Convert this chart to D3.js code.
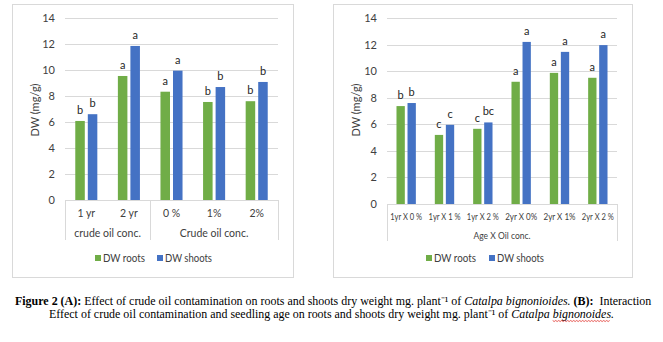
<!DOCTYPE html>
<html><head><meta charset="utf-8">
<script src="https://cdn.jsdelivr.net/npm/d3@7"></script>
<style>
html,body{margin:0;padding:0;background:#fff;}
svg{display:block;}
</style></head>
<body>
<script>
// ---- data ----
const categoriesA = ["1 yr", "2 yr", "0 %", "1%", "2%"];
const groupLabelsA = ["crude oil conc.", "Crude oil conc."];
const groupSizesA = [2, 3];
const rootsA = [6.08, 9.54, 8.33, 7.54, 7.6];
const shootsA = [6.6, 11.85, 9.95, 8.69, 9.08];
const lettersRootsA = ["b", "a", "a", "b", "b"];
const lettersShootsA = ["b", "a", "a", "b", "b"];

const categoriesB = ["1yr X 0 %", "1yr X 1 %", "1yr X 2 %", "2yr X 0%", "2yr X 1%", "2yr X 2 %"];
const axisTitleB = "Age X Oil conc.";
const rootsB = [7.37, 5.2, 5.66, 9.2, 9.87, 9.5];
const shootsB = [7.6, 5.96, 6.14, 12.2, 11.45, 11.96];
const lettersRootsB = ["b", "c", "c", "a", "a", "a"];
const lettersShootsB = ["b", "c", "bc", "a", "a", "a"];

const yTicks = [0, 2, 4, 6, 8, 10, 12, 14];
const seriesNames = ["DW roots", "DW shoots"];
const seriesColors = ["#70ad47", "#4472c4"];
const yTitle = "DW (mg/g)";

// ---- drawing ----
const W = 663, H = 342;
const svg = d3.select("body").append("svg").attr("width", W).attr("height", H);
const FONT = "Lato, 'Liberation Sans', sans-serif";

function panel(cfg) {
  const g = svg.append("g");
  g.append("rect").attr("x", cfg.box[0] + 0.5).attr("y", cfg.box[1] + 0.5)
    .attr("width", cfg.box[2] - cfg.box[0]).attr("height", cfg.box[3] - cfg.box[1])
    .attr("fill", "#fff").attr("stroke", "#d9d9d9").attr("stroke-width", 1);

  const y = d3.scaleLinear().domain([0, 14]).range([cfg.y0, cfg.y14]);
  const x0 = d3.scaleBand().domain(cfg.cats).range([cfg.xl, cfg.xr]).padding(0);
  const x1 = d3.scaleBand().domain([0, 1]).range([0, x0.bandwidth()])
    .paddingInner(cfg.pi).paddingOuter(cfg.po);

  g.append("g").selectAll("line").data(yTicks).join("line")
    .attr("x1", cfg.xl).attr("x2", cfg.xr)
    .attr("y1", d => Math.round(y(d)) + 0.5).attr("y2", d => Math.round(y(d)) + 0.5)
    .attr("stroke", "#d9d9d9").attr("stroke-width", 1);

  const ya = d3.axisLeft(y).tickValues(yTicks).tickSize(0).tickPadding(0);
  const yg = g.append("g").attr("transform", `translate(${cfg.tickX},0)`).call(ya);
  yg.select(".domain").remove();
  yg.selectAll("text").attr("font-family", FONT).attr("font-size", cfg.tickFs)
    .attr("fill", "#404040");

  g.append("text").attr("transform", `translate(${cfg.titleX},${cfg.titleY}) rotate(-90)`)
    .attr("text-anchor", "middle").attr("font-family", FONT).attr("font-size", cfg.tickFs)
    .attr("fill", "#404040").text(yTitle);

  const series = [cfg.roots, cfg.shoots];
  const letters = [cfg.lr, cfg.ls];
  series.forEach((vals, si) => {
    const sg = g.append("g");
    sg.selectAll("rect").data(vals).join("rect")
      .attr("x", (d, i) => x0(cfg.cats[i]) + x1(si))
      .attr("width", x1.bandwidth())
      .attr("y", d => y(d)).attr("height", d => y(0) - y(d))
      .attr("fill", seriesColors[si]);
    sg.selectAll("text").data(vals).join("text")
      .attr("x", (d, i) => x0(cfg.cats[i]) + x1(si) + x1.bandwidth() / 2)
      .attr("y", d => y(d) - cfg.letterOff)
      .attr("text-anchor", "middle").attr("font-family", FONT).attr("font-size", cfg.letterFs)
      .attr("fill", "#262626")
      .text((d, i) => letters[si][i]);
  });

  const xa = d3.axisBottom(x0).tickSize(0).tickPadding(0);
  const xg = g.append("g").attr("transform", `translate(0,${cfg.catY})`).call(xa);
  xg.select(".domain").remove();
  xg.selectAll("text").attr("font-family", FONT).attr("font-size", cfg.catFs)
    .attr("fill", "#404040").attr("dy", "0.35em");
  if (cfg.catLen) {
    xg.selectAll("text").each(function () {
      const len = this.getComputedTextLength();
      if (len > cfg.catLen) d3.select(this).attr("textLength", cfg.catLen).attr("lengthAdjust", "spacingAndGlyphs");
    });
  }

  cfg.seps.forEach(sx => {
    g.append("line").attr("x1", Math.round(sx) + 0.5).attr("x2", Math.round(sx) + 0.5)
      .attr("y1", cfg.y0).attr("y2", cfg.sepBottom).attr("stroke", "#d9d9d9");
  });
  cfg.groupTitles.forEach(gt => {
    g.append("text").attr("x", gt.x).attr("y", cfg.groupY).attr("dy", "0.35em")
      .attr("text-anchor", "middle").attr("font-family", FONT).attr("font-size", cfg.groupFs)
      .attr("fill", "#404040").text(gt.t);
  });

  cfg.legend.forEach((lx, i) => {
    g.append("rect").attr("x", lx).attr("y", cfg.legY - 3).attr("width", 6).attr("height", 6)
      .attr("fill", seriesColors[i]);
    g.append("text").attr("x", lx + 8).attr("y", cfg.legY).attr("dy", "0.35em")
      .attr("font-family", FONT).attr("font-size", cfg.legFs).attr("fill", "#404040")
      .attr("textLength", cfg.legLen[i]).attr("lengthAdjust", "spacingAndGlyphs")
      .text(seriesNames[i]);
  });
}

// Panel A
{
  const xl = 65, xr = 278;
  const xTmp = d3.scaleBand().domain(categoriesA).range([xl, xr]);
  let idx = 0;
  const seps = [xl];
  const groupTitles = [];
  groupSizesA.forEach((n, gi) => {
    const start = xTmp(categoriesA[idx]);
    const end = xTmp(categoriesA[idx + n - 1]) + xTmp.bandwidth();
    seps.push(end);
    groupTitles.push({ x: (start + end) / 2, t: groupLabelsA[gi] });
    idx += n;
  });
  panel({
    box: [12, 4, 293, 277], cats: categoriesA, xl, xr, y0: 200, y14: 18,
    pi: 0.24, po: 0.82, roots: rootsA, shoots: shootsA, lr: lettersRootsA, ls: lettersShootsA,
    tickX: 55, tickFs: 11, titleX: 39, titleY: 110, letterOff: 7, letterFs: 11,
    catY: 213, catFs: 10.5, seps, sepBottom: 240, groupTitles, groupY: 233, groupFs: 10.5,
    legend: [95, 157], legY: 258, legFs: 10.5, legLen: [42, 47]
  });
}
// Panel B
{
  const xl = 387, xr = 617;
  panel({
    box: [333, 4, 632, 277], cats: categoriesB, xl, xr, y0: 204, y14: 18,
    pi: 0.245, po: 0.86, roots: rootsB, shoots: shootsB, lr: lettersRootsB, ls: lettersShootsB,
    tickX: 377, tickFs: 11, titleX: 360, titleY: 110, letterOff: 7, letterFs: 11,
    catY: 217, catFs: 8.5, catLen: 32, seps: [xl, xr], sepBottom: 241,
    groupTitles: [{ x: (xl + xr) / 2, t: axisTitleB }], groupY: 236, groupFs: 8.5,
    legend: [426, 489], legY: 258, legFs: 10.5, legLen: [42, 47]
  });
}

// caption: each run placed as its own text element, scaled to the target width
const SERIF = "'Liberation Serif', 'Times New Roman', serif";
function captionLine(runs, x, y, target) {
  const base = 12;
  const els = runs.map(r => svg.append("text").attr("y", y)
    .attr("font-family", SERIF).attr("font-size", base).attr("fill", "#000")
    .attr("font-weight", r.b ? "bold" : null).attr("font-style", r.i ? "italic" : null)
    .attr("xml:space", "preserve").style("white-space", "pre").text(r.t));
  const widths = els.map(e => e.node().getComputedTextLength());
  const total = d3.sum(widths);
  const fs = base * target / total;
  let cx = x;
  const out = [];
  els.forEach((e, k) => {
    e.attr("font-size", fs).attr("x", cx);
    const w = e.node().getComputedTextLength();
    out.push({ x: cx, w });
    cx += w;
  });
  return out;
}
captionLine([
  { t: "Figure 2 (A):", b: true },
  { t: " Effect of crude oil contamination on roots and shoots dry weight mg. plant\u207B\u00B9 of " },
  { t: "Catalpa bignonioides.", i: true },
  { t: " " },
  { t: "(B):", b: true },
  { t: "  Interaction" }
], 15, 305, 637);
const pos2 = captionLine([
  { t: "Effect of crude oil contamination and seedling age on roots and shoots dry weight mg. plant\u207B\u00B9 of " },
  { t: "Catalpa ", i: true },
  { t: "bignonoides.", i: true }
], 49, 318, 566);
{
  const w = pos2[2];
  const pts = [];
  for (let xx = w.x; xx <= w.x + w.w - 3; xx += 1.5) {
    pts.push([xx, 320.5 + ((Math.round((xx - w.x) / 1.5) % 2) ? 1 : 0)]);
  }
  svg.append("path").attr("d", d3.line()(pts)).attr("fill", "none")
    .attr("stroke", "#e0302a").attr("stroke-width", 0.8);
}
</script>
</body></html>
